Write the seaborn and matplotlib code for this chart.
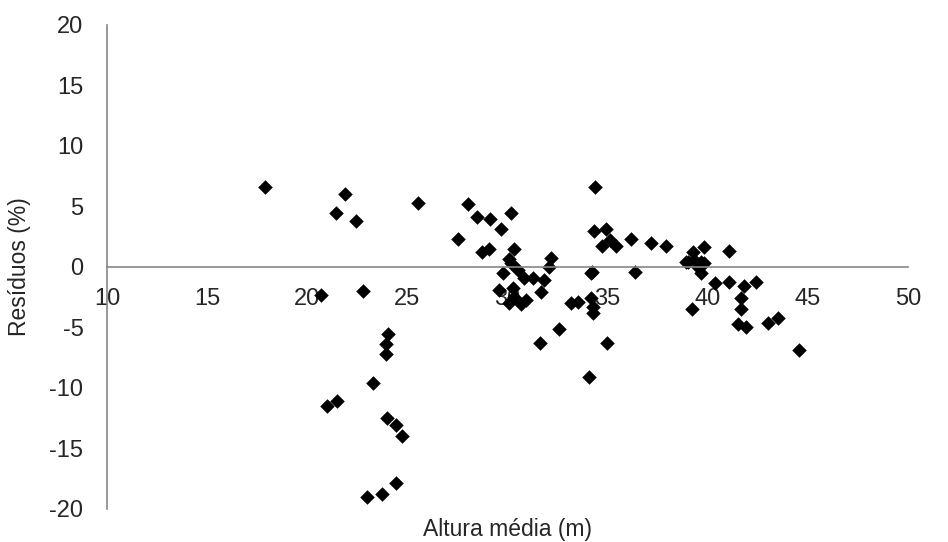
import matplotlib
matplotlib.use("Agg")
import matplotlib.pyplot as plt
import seaborn as sns
import pandas as pd

# altura média (m) e resíduos (%)
altura = [17.9, 21.45, 21.9, 22.45, 25.55, 20.7, 22.8,
          24.05, 23.95, 23.95, 23.3, 21.5, 21.0, 24.0, 24.45, 24.75, 24.45, 23.75, 23.0,
          28.0, 28.45, 29.1, 30.15, 29.65, 27.55, 28.7, 29.05, 30.3, 30.05, 30.15,
          32.15, 32.05, 29.75, 30.5, 31.25, 31.8, 30.8, 29.55, 30.25, 30.3, 31.65,
          30.05, 30.65, 30.9, 33.15, 33.5, 34.15, 34.25, 34.25, 34.15, 32.55, 31.6,
          34.95, 34.05, 34.35,
          34.3, 34.9, 34.7, 35.1, 35.4, 36.15, 37.15, 37.9, 34.2, 36.35,
          39.0, 39.25, 39.8, 41.05, 38.9, 39.3, 39.65, 39.5, 39.65, 39.8,
          40.35, 41.05, 41.8, 42.4, 41.65, 41.65, 39.2, 41.5, 41.9, 43.0, 43.5, 44.55]
residuos = [6.6, 4.5, 6.0, 3.8, 5.3, -2.3, -2.0,
            -5.5, -6.4, -7.2, -9.6, -11.1, -11.5, -12.5, -13.1, -14.0, -17.85, -18.8, -19.0,
            5.2, 4.1, 4.0, 4.5, 3.1, 2.3, 1.2, 1.5, 1.5, 0.65, 0.3,
            0.75, 0.0, -0.5, -0.25, -0.9, -1.1, -0.9, -1.9, -1.7, -2.5, -2.1,
            -3.0, -3.1, -2.7, -3.0, -2.9, -2.6, -3.3, -3.8, -0.5, -5.1, -6.3,
            -6.3, -9.1, 6.6,
            3.0, 3.1, 1.7, 2.2, 1.7, 2.3, 2.0, 1.7, -0.4, -0.4,
            0.4, 1.2, 1.65, 1.3, 0.4, 0.6, 0.4, 0.0, -0.5, 0.3,
            -1.3, -1.25, -1.6, -1.25, -2.6, -3.5, -3.5, -4.7, -4.95, -4.6, -4.2, -6.9]

df = pd.DataFrame({"altura": altura, "residuos": residuos})

sns.set_style("white")
plt.rcParams['font.family'] = ['Liberation Sans', 'DejaVu Sans']
plt.rcParams['axes.unicode_minus'] = False

fig = plt.figure(figsize=(9.48, 5.42), dpi=100)
ax = fig.add_axes([0.1129, 0.0609, 0.845, 0.8931])

sns.scatterplot(data=df, x="altura", y="residuos", marker="D", s=55,
                color="black", edgecolor="black", linewidth=0, ax=ax)

ax.set_xlim(10, 50)
ax.set_ylim(-20, 20)
ax.set_xticks(range(10, 51, 5))
ax.set_yticks(range(-20, 21, 5))

for side in ["top", "right"]:
    ax.spines[side].set_visible(False)
ax.spines["bottom"].set_position(("data", 0))
ax.spines["left"].set_color("#868686")
ax.spines["bottom"].set_color("#868686")
ax.spines["left"].set_linewidth(1.2)
ax.spines["bottom"].set_linewidth(1.2)

ax.tick_params(axis="x", length=0, pad=15, labelsize=17)
ax.tick_params(axis="y", length=0, pad=17, labelsize=17)

ax.set_xlabel("Altura média (m)", fontsize=16.5)
ax.set_ylabel("Resíduos (%)", fontsize=16.5)
ax.xaxis.set_label_coords(0.5, -0.018)
ax.yaxis.set_label_coords(-0.095, 0.5)

fig.savefig("out.png", dpi=100)
